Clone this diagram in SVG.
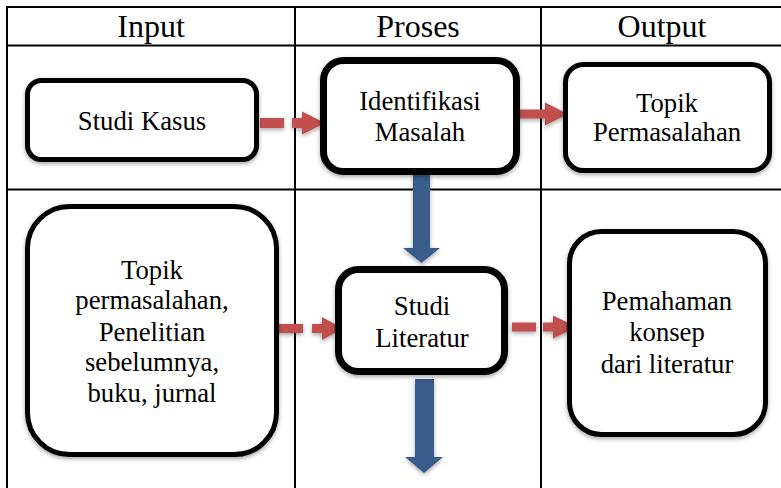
<svg xmlns="http://www.w3.org/2000/svg" width="781" height="488" viewBox="0 0 781 488">
  <defs>
    <filter id="shadow" x="-20%" y="-20%" width="140%" height="150%">
      <feDropShadow dx="0" dy="2" stdDeviation="2" flood-color="#000" flood-opacity="0.35"/>
    </filter>
  </defs>
  <style>
    .grid { stroke: #000; stroke-width: 2; fill: none; }
    .head { font-family: "Liberation Serif", "DejaVu Serif", serif; font-size: 32px; fill: #000; text-anchor: middle; }
    .box { fill: #fff; stroke: #000; filter: url(#shadow); }
    .thin { stroke-width: 5; }
    .thick { stroke-width: 7; }
    .label { font-family: "Liberation Serif", "DejaVu Serif", serif; font-size: 26.7px; fill: #000; text-anchor: middle; }
    .red { fill: #c0504d; filter: url(#shadow); }
    .blue { fill: #385d8a; filter: url(#shadow); }
  </style>

  <!-- table grid -->
  <g id="table">
    <line class="grid" x1="6" y1="7" x2="781" y2="7"/>
    <line class="grid" x1="6" y1="45.5" x2="781" y2="45.5"/>
    <line class="grid" x1="6" y1="189.5" x2="781" y2="189.5"/>
    <line class="grid" x1="7" y1="6" x2="7" y2="488"/>
    <line class="grid" x1="295" y1="6" x2="295" y2="488"/>
    <line class="grid" x1="541" y1="6" x2="541" y2="488"/>
    <text class="head" x="151" y="37">Input</text>
    <text class="head" x="418" y="37">Proses</text>
    <text class="head" x="662" y="37">Output</text>
  </g>

  <!-- connectors -->
  <g id="connectors">
    <!-- Studi Kasus to Identifikasi Masalah -->
    <g class="red">
      <rect x="260" y="118" width="24" height="10"/>
      <rect x="292" y="118" width="11" height="10"/>
      <polygon points="302,111.5 325,123 302,134.5"/>
    </g>
    <!-- Identifikasi Masalah to Topik Permasalahan -->
    <g class="red">
      <rect x="519" y="109.5" width="27" height="9"/>
      <polygon points="545,102.5 568,114 545,125.5"/>
    </g>
    <!-- sources to Studi Literatur -->
    <g class="red">
      <rect x="279" y="324" width="24" height="9"/>
      <rect x="312" y="324" width="11" height="9"/>
      <polygon points="322,317 343,328.5 322,340"/>
    </g>
    <!-- Studi Literatur to Pemahaman -->
    <g class="red">
      <rect x="512" y="322.5" width="24" height="9"/>
      <rect x="543" y="322.5" width="11" height="9"/>
      <polygon points="553,315.5 577,327 553,338.5"/>
    </g>
    <!-- downward flow in Proses column -->
    <polygon class="blue" points="413,175 430,175 430,248 440,248 421.5,263 403,248 413,248"/>
    <polygon class="blue" points="415,379 434,379 434,457 443,457 424,473 405,457 415,457"/>
  </g>

  <!-- nodes -->
  <g id="studi-kasus">
    <rect class="box thin" x="27.5" y="80.5" width="229" height="79" rx="14"/>
    <text class="label" x="142" y="130">Studi Kasus</text>
  </g>

  <g id="identifikasi-masalah">
    <rect class="box thick" x="323.5" y="60.5" width="193" height="111" rx="20"/>
    <text class="label" x="420" y="110">Identifikasi</text>
    <text class="label" x="420" y="141">Masalah</text>
  </g>

  <g id="topik-permasalahan">
    <rect class="box thin" x="565.5" y="64.5" width="204" height="106" rx="18"/>
    <text class="label" x="667" y="112">Topik</text>
    <text class="label" x="667" y="141">Permasalahan</text>
  </g>

  <g id="sumber-literatur">
    <rect class="box thin" x="27.5" y="206.5" width="249" height="248" rx="42"/>
    <text class="label" x="152" y="279">Topik</text>
    <text class="label" x="152" y="309">permasalahan,</text>
    <text class="label" x="152" y="341">Penelitian</text>
    <text class="label" x="152" y="371">sebelumnya,</text>
    <text class="label" x="152" y="402">buku, jurnal</text>
  </g>

  <g id="studi-literatur">
    <rect class="box thick" x="338.5" y="269.5" width="166" height="102" rx="20"/>
    <text class="label" x="422" y="315">Studi</text>
    <text class="label" x="422" y="347">Literatur</text>
  </g>

  <g id="pemahaman-konsep">
    <rect class="box thin" x="569.5" y="231.5" width="196" height="203" rx="32"/>
    <text class="label" x="667" y="310">Pemahaman</text>
    <text class="label" x="667" y="341">konsep</text>
    <text class="label" x="667" y="373">dari literatur</text>
  </g>
</svg>
